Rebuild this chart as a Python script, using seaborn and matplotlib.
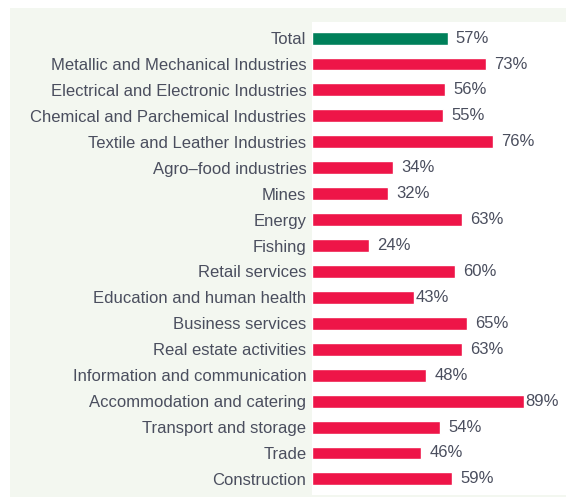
import matplotlib
matplotlib.use('Agg')
import matplotlib.pyplot as plt
import seaborn as sns
from matplotlib.patches import Rectangle
from matplotlib import font_manager

# data
sectors = ['Total', 'Metallic and Mechanical Industries', 'Electrical and Electronic Industries',
           'Chemical and Parchemical Industries', 'Textile and Leather Industries',
           'Agro\u2013food industries', 'Mines', 'Energy', 'Fishing', 'Retail services',
           'Education and human health', 'Business services', 'Real estate activities',
           'Information and communication', 'Accommodation and catering',
           'Transport and storage', 'Trade', 'Construction']
shares = [57, 73, 56, 55, 76, 34, 32, 63, 24, 60, 43, 65, 63, 48, 89, 54, 46, 59]

RED = '#EE1548'
GREEN = '#00805A'
PANEL = '#F3F7F0'
TEXT = '#4A4E5E'

sns.set_theme(style='white')
names = {f.name for f in font_manager.fontManager.ttflist}
fam = 'Liberation Sans Narrow' if 'Liberation Sans Narrow' in names else 'Liberation Sans'
plt.rcParams['font.family'] = [fam, 'DejaVu Sans']

colors = [GREEN] + [RED] * (len(sectors) - 1)

fig = plt.figure(figsize=(5.66, 4.98), dpi=100)
fig.patch.set_facecolor('white')
# light green panel behind everything
fig.patches.append(Rectangle((10 / 566, 1 / 498), 1 - 10 / 566, 489 / 498,
                             transform=fig.transFigure, facecolor=PANEL,
                             edgecolor='none', zorder=-5))

ax = fig.add_axes([312 / 566, 3 / 498, 1 - 312 / 566, 473 / 498])
ax.set_zorder(2)
ax.set_facecolor('white')
sns.barplot(x=shares, y=sectors, hue=sectors, palette=colors, legend=False,
            orient='h', width=0.5, ax=ax, saturation=1)

ax.set_xlim(0, 106.8)
ax.set_ylim(len(sectors) - 1 + 0.62, -0.62)
ax.set_xticks([])
ax.set_xlabel('')
ax.set_ylabel('')
for s in ax.spines.values():
    s.set_visible(False)
ax.tick_params(axis='y', length=0, pad=4, labelsize=12, labelcolor=TEXT)

for i, v in enumerate(shares):
    off = 0.5 if v in (43, 89) else 3.5
    ax.text(v + off, i, f'{v}%', va='center', ha='left', fontsize=12, color=TEXT)

fig.savefig('out.png', dpi=100, facecolor=fig.get_facecolor())
